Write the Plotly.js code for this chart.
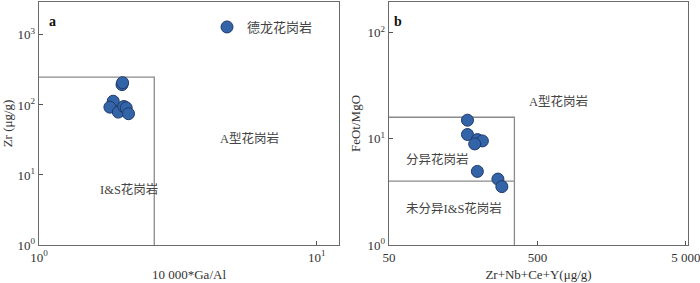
<!DOCTYPE html>
<html>
<head>
<meta charset="utf-8">
<script src="https://cdn.plot.ly/plotly-3.0.1.min.js"></script>
<style>html,body{margin:0;padding:0;background:#fff}#chart{width:700px;height:283px}</style>
</head>
<body>
<div id="chart"></div>
<script>
// Panel a: 10000*Ga/Al vs Zr
const gaAl = [1.99, 2.00, 1.85, 1.80, 1.93, 2.02, 2.06, 2.10];
const zr   = [195, 208, 113, 93, 79, 95, 91, 75];
// Panel b: Zr+Nb+Ce+Y vs FeOt/MgO
const zncy = [169, 169, 197, 213, 189, 197, 271, 288];
const feoMgo = [15.0, 11.0, 9.85, 9.57, 8.97, 4.94, 4.18, 3.55];
// Discrimination boundaries
const boxA_x = [1, 2.6, 2.6];
const boxA_y = [250, 250, 1];
const boxB_x = [50, 350, 350];
const boxB_y = [16, 16, 1];
const fgB_x = [50, 350];
const fgB_y = [4, 4];
// Tick labels
const powTicks = [1, 10, 100, 1000];
const powText = ['10<sup>0</sup>', '10<sup>1</sup>', '10<sup>2</sup>', '10<sup>3</sup>'];
const bxTicks = [50, 500, 5000];
const bxText = ['50', '500', '5 000'];
const seriesName = '德龙花岗岩';

const serif = 'Liberation Serif, Times New Roman, Noto Sans CJK SC, serif';
const cjk = 'Liberation Serif, Noto Sans CJK SC, serif';
const mk = {size: 12, color: '#3464a8', line: {color: '#1f3a6a', width: 1}};
const bline = {color: '#8a8a8a', width: 1.3};
const tfont = {family: serif, size: 13, color: '#333'};

const data = [
  {x: boxA_x, y: boxA_y, mode: 'lines', line: bline, xaxis: 'x', yaxis: 'y', showlegend: false, hoverinfo: 'skip'},
  {x: boxB_x, y: boxB_y, mode: 'lines', line: bline, xaxis: 'x2', yaxis: 'y2', showlegend: false, hoverinfo: 'skip'},
  {x: fgB_x, y: fgB_y, mode: 'lines', line: bline, xaxis: 'x2', yaxis: 'y2', showlegend: false, hoverinfo: 'skip'},
  {x: gaAl, y: zr, mode: 'markers', marker: mk, name: seriesName, xaxis: 'x', yaxis: 'y', showlegend: true},
  {x: zncy, y: feoMgo, mode: 'markers', marker: mk, name: seriesName, xaxis: 'x2', yaxis: 'y2', showlegend: false}
];

const axBase = {
  type: 'log', showgrid: false, zeroline: false, showline: true, mirror: true,
  linecolor: '#6a6a6a', linewidth: 1.3, ticks: 'inside', ticklen: 4, tickcolor: '#555',
  tickfont: {family: serif, size: 13, color: '#333'}, ticklabeloverflow: 'allow'
};

const yDom = [1 - 245/283, 1 - 2/283];

const layout = {
  width: 700, height: 283,
  margin: {l: 0, r: 0, t: 0, b: 0},
  paper_bgcolor: '#fff', plot_bgcolor: '#fff',
  font: {family: serif, color: '#333'},
  xaxis: Object.assign({}, axBase, {domain: [39/700, 339/700], range: [0, 1.08],
    tickvals: [1, 10], ticktext: ['10<sup>0</sup>', '10<sup>1</sup>'],
    title: {text: '10 000*Ga/Al', font: tfont, standoff: 6}}),
  yaxis: Object.assign({}, axBase, {domain: yDom, range: [0, 3.47],
    tickvals: powTicks, ticktext: powText,
    title: {text: 'Zr (μg/g)', font: tfont, standoff: 4}}),
  xaxis2: Object.assign({}, axBase, {domain: [389/700, 688/700], range: [Math.log10(50), 3.714], anchor: 'y2',
    tickvals: bxTicks, ticktext: bxText,
    title: {text: 'Zr+Nb+Ce+Y(μg/g)', font: tfont, standoff: 6}}),
  yaxis2: Object.assign({}, axBase, {domain: yDom, range: [0, 2.29], anchor: 'x2',
    tickvals: powTicks.slice(0, 3), ticktext: powText.slice(0, 3),
    title: {text: 'FeOt/MgO', font: tfont, standoff: 4}}),
  showlegend: true,
  legend: {x: 207/700, y: 1 - 27/283, xanchor: 'left', yanchor: 'middle', bgcolor: 'rgba(0,0,0,0)',
    font: {family: cjk, size: 13, color: '#444'}, itemwidth: 30, borderwidth: 0},
  annotations: [
    {text: '<b>a</b>', x: 47/700, y: 1 - 12/283, xref: 'paper', yref: 'paper', showarrow: false, font: {family: serif, size: 14, color: '#111'}},
    {text: '<b>b</b>', x: 398/700, y: 1 - 12/283, xref: 'paper', yref: 'paper', showarrow: false, font: {family: serif, size: 14, color: '#111'}},
    {text: 'A型花岗岩', x: 249/700, y: 1 - 138/283, xref: 'paper', yref: 'paper', showarrow: false, font: {family: cjk, size: 12.5, color: '#444'}},
    {text: 'I&S花岗岩', x: 98/700, y: 1 - 199/283, xref: 'paper', yref: 'paper', showarrow: false, font: {family: cjk, size: 12.5, color: '#444'}},
    {text: 'A型花岗岩', x: 590/700, y: 1 - 101/283, xref: 'paper', yref: 'paper', showarrow: false, font: {family: cjk, size: 12.5, color: '#444'}},
    {text: '分异花岗岩', x: 437/700, y: 1 - 159/283, xref: 'paper', yref: 'paper', showarrow: false, font: {family: cjk, size: 12.5, color: '#444'}},
    {text: '未分异I&S花岗岩', x: 454/700, y: 1 - 218/283, xref: 'paper', yref: 'paper', showarrow: false, font: {family: cjk, size: 12.5, color: '#444'}}
  ]
};

Plotly.newPlot('chart', data, layout, {staticPlot: true, displayModeBar: false});
</script>
</body>
</html>
